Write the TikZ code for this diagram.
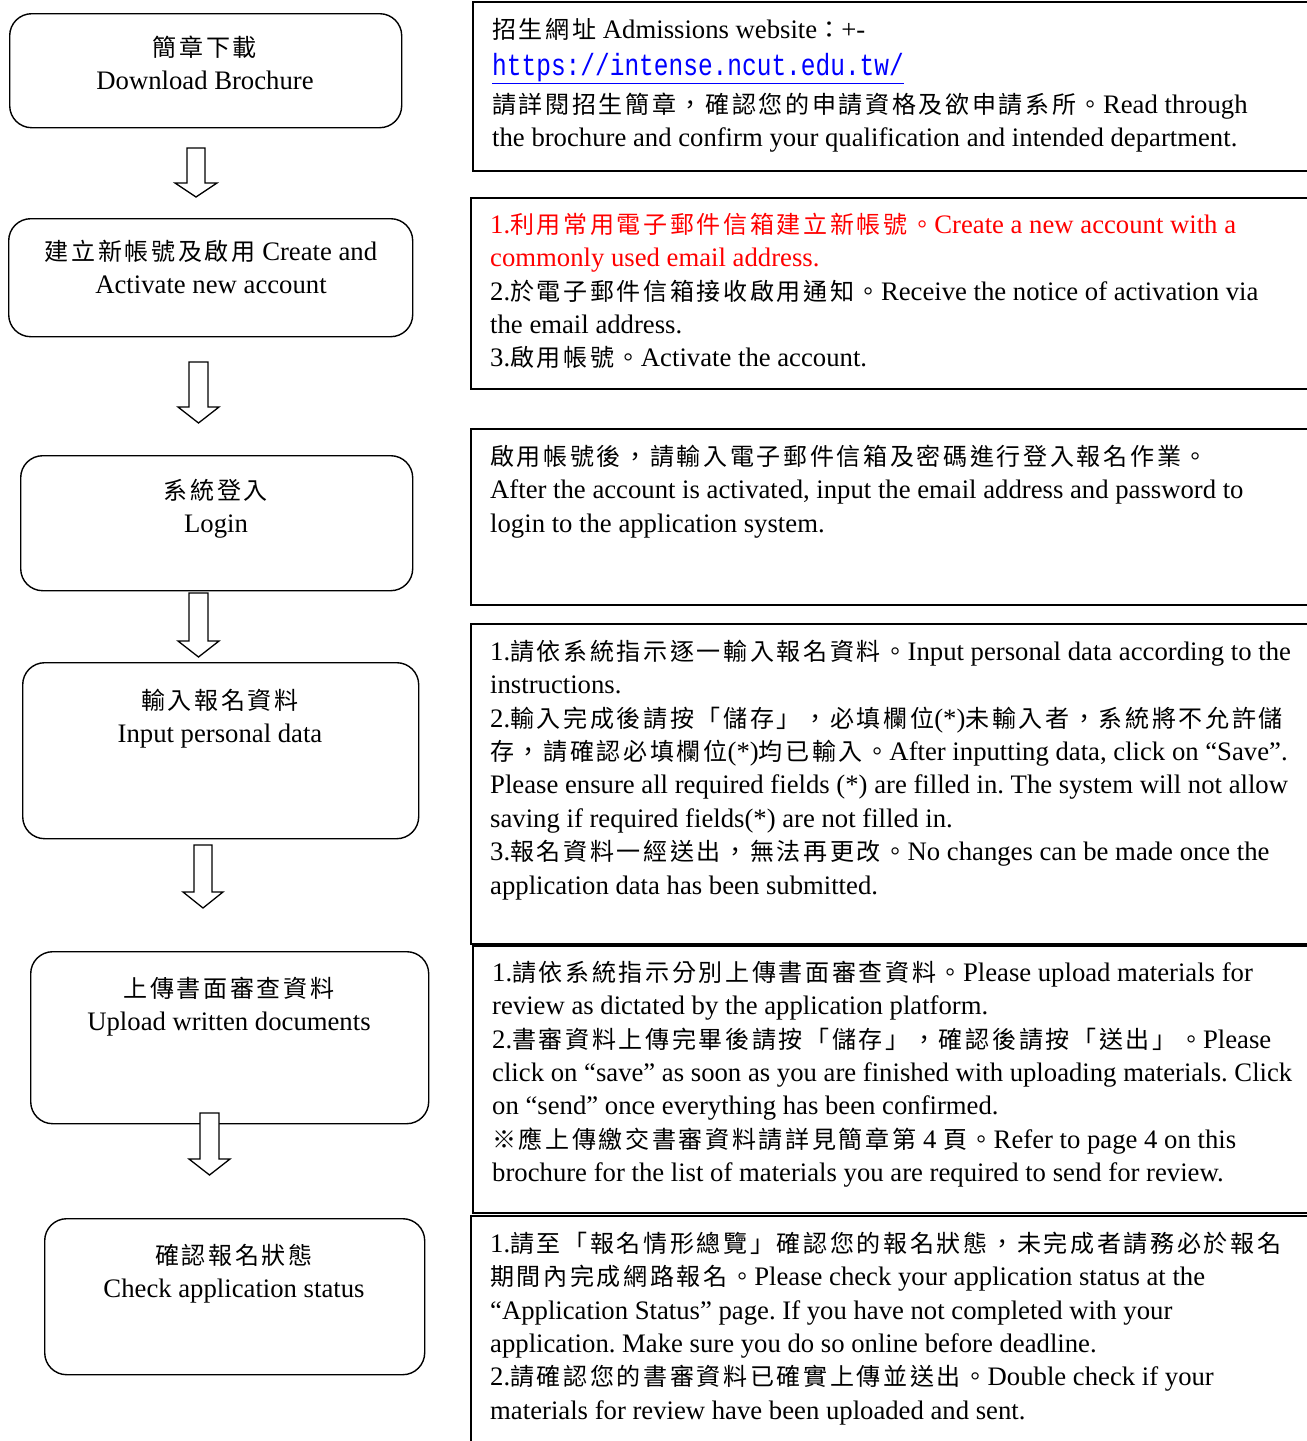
\documentclass[tikz,border=0pt]{standalone}
\usepackage{fontspec}
\setmainfont{Liberation Serif}
\newfontfamily\cjkf{Noto Sans CJK TC}[Scale=0.9,LetterSpace=11]
\newfontfamily\urlf{Liberation Mono}
\newcommand\zh[1]{{\cjkf #1}}
\newcommand\fst{\rule{0pt}{24pt}}
\newcommand\msz{\fontsize{26.7pt}{33.4pt}\selectfont\frenchspacing}
\definecolor{lred}{RGB}{255,0,0}
\definecolor{lblue}{RGB}{0,0,255}
\newcommand\barr[6]{\draw[barrow] (#1-#5,#2) -- (#1+#5,#2) -- (#1+#5,#3) -- (#1+#6,#3) -- (#1,#4) -- (#1-#6,#3) -- (#1-#5,#3) -- cycle;}
\begin{document}
\begin{tikzpicture}[x=1pt,y=-1pt,
  lbox/.style={draw, line width=1.4pt, rounded corners=22pt, inner sep=0pt, anchor=north west},
  rbox/.style={draw, line width=1.6pt, inner sep=0pt, anchor=north west, minimum width=900pt},
  ltext/.style={align=center, anchor=north, inner sep=0pt, font=\msz},
  rtext/.style={align=left, anchor=north west, inner sep=0pt, font=\msz},
  barrow/.style={draw, line width=1.3pt, fill=white, line join=miter}]
\useasboundingbox (0,0) rectangle (1307,1441);
\clip (0,0) rectangle (1307,1441);
% left boxes
\node[lbox, minimum width=392pt, minimum height=114pt] (b1) at (9,13) {};
\node[lbox, minimum width=404pt, minimum height=118pt] (b2) at (8,218) {};
\node[lbox, minimum width=392pt, minimum height=135pt] (b3) at (20,455) {};
\node[lbox, minimum width=396pt, minimum height=176pt] (b4) at (22,662) {};
\node[lbox, minimum width=398pt, minimum height=172pt] (b5) at (30,951) {};
\node[lbox, minimum width=380pt, minimum height=156pt] (b6) at (44,1218) {};
\node[ltext] (b1t) at (205,32) {\fst\zh{簡章下載}\\Download Brochure};
\node[ltext] (b2t) at (211,236) {\fst\zh{建立新帳號及啟用} Create and\\Activate new account};
\node[ltext] (b3t) at (216,475) {\fst\zh{系統登入}\\Login};
\node[ltext] (b4t) at (220,685) {\fst\zh{輸入報名資料}\\Input personal data};
\node[ltext] (b5t) at (229,973) {\fst\zh{上傳書面審查資料}\\Upload written documents};
\node[ltext] (b6t) at (234,1240) {\fst\zh{確認報名狀態}\\Check application status};
% right boxes
\node[rbox, minimum height=169pt] (r1) at (472,1) {};
\node[rbox, minimum height=191pt] (r2) at (470,197) {};
\node[rbox, minimum height=176pt] (r3) at (470,428) {};
\node[rbox, minimum height=320pt] (r4) at (470,623) {};
\node[rbox, minimum height=267pt] (r5) at (472,945) {};
\node[rbox, minimum height=300pt] (r6) at (470,1215) {};
\node[rtext] (r1t) at (492,14) {\fst\zh{招生網址} Admissions website\zh{：}+-\\[3.6pt]
{\color{lblue}\underline{\scalebox{1}[1.25]{\urlf\fontsize{24.5pt}{30pt}\selectfont https://intense.ncut.edu.tw/}}}\\[4.6pt]
\zh{請詳閱招生簡章，確認您的申請資格及欲申請系所。}Read through\\
the brochure and confirm your qualification and intended department.};
\node[rtext] (r2t) at (490,209) {\fst\textcolor{lred}{1.\zh{利用常用電子郵件信箱建立新帳號。}Create a new account with a}\\
\textcolor{lred}{commonly used email address.}\\
2.\zh{於電子郵件信箱接收啟用通知。}Receive the notice of activation via\\
the email address.\\
3.\zh{啟用帳號。}Activate the account.};
\node[rtext] (r3t) at (490,441) {\fst\zh{啟用帳號後，請輸入電子郵件信箱及密碼進行登入報名作業。}\\
After the account is activated, input the email address and password to\\
login to the application system.};
\node[rtext] (r4t) at (490,636) {\fst 1.\zh{請依系統指示逐一輸入報名資料。}Input personal data according to the\\
instructions.\\
2.\zh{輸入完成後請按「儲存」，必填欄位}(*)\zh{未輸入者，系統將不允許儲}\\
\zh{存，請確認必填欄位}(*)\zh{均已輸入。}After inputting data, click on “Save”.\\
Please ensure all required fields (*) are filled in. The system will not allow\\
saving if required fields(*) are not filled in.\\
3.\zh{報名資料一經送出，無法再更改。}No changes can be made once the\\
application data has been submitted.};
\node[rtext] (r5t) at (492,957) {\fst 1.\zh{請依系統指示分別上傳書面審查資料。}Please upload materials for\\
review as dictated by the application platform.\\
2.\zh{書審資料上傳完畢後請按「儲存」，確認後請按「送出」。}Please\\
click on “save” as soon as you are finished with uploading materials. Click\\
on “send” once everything has been confirmed.\\
\zh{※應上傳繳交書審資料請詳見簡章第} 4 \zh{頁。}Refer to page 4 on this\\
brochure for the list of materials you are required to send for review.};
\node[rtext] (r6t) at (490,1228) {\fst 1.\zh{請至「報名情形總覽」確認您的報名狀態，未完成者請務必於報名}\\
\zh{期間內完成網路報名。}Please check your application status at the\\
“Application Status” page. If you have not completed with your\\
application. Make sure you do so online before deadline.\\
2.\zh{請確認您的書審資料已確實上傳並送出。}Double check if your\\
materials for review have been uploaded and sent.};
% block arrows
\barr{196}{148}{183}{197}{9}{21}
\barr{198.5}{362}{407}{423}{9.5}{20.5}
\barr{198.5}{593}{641}{657}{9.5}{20.5}
\barr{203}{845}{892}{908}{9}{20}
\barr{209.5}{1113}{1159}{1175}{9.5}{20.5}
\end{tikzpicture}
\end{document}
